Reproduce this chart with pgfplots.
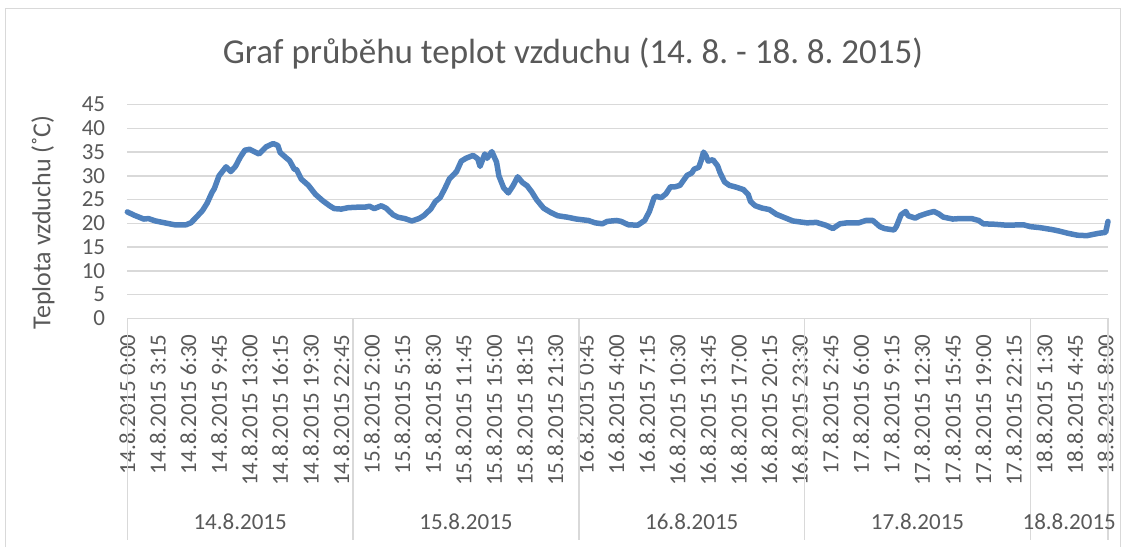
\documentclass[border=0pt]{standalone}
\usepackage{fontspec}
\setmainfont{Carlito}
\usepackage{pgfplots}
\pgfplotsset{compat=1.18}
\definecolor{txt}{HTML}{595959}
\definecolor{grd}{HTML}{D9D9D9}
\definecolor{ser}{HTML}{4F81BD}
\tikzset{
  day/.style={text=txt, font=\fontsize{23}{27}\selectfont},
  sep/.style={grd, line width=1.5pt},
}
\frenchspacing

\begin{document}
\begin{tikzpicture}
% axis box: south west corner at the origin (image px 127.3, 318.3)
\begin{axis}[
  scale only axis, width=980.7pt, height=213.7pt,
  xmin=0, xmax=417, ymin=0, ymax=45,
  clip=false,
  axis x line*=bottom, axis y line*=left,
  x axis line style={grd, line width=1.5pt, -},
  y axis line style={draw=none},
  tick style={draw=none},
  ymajorgrids, grid style={grd, line width=1.5pt},
  ytick={0,5,...,45},
  xtick={0,13,...,416},
  xticklabels={14.8.2015 0:00, 14.8.2015 3:15, 14.8.2015 6:30, 14.8.2015 9:45,
    14.8.2015 13:00, 14.8.2015 16:15, 14.8.2015 19:30, 14.8.2015 22:45,
    15.8.2015 2:00, 15.8.2015 5:15, 15.8.2015 8:30, 15.8.2015 11:45,
    15.8.2015 15:00, 15.8.2015 18:15, 15.8.2015 21:30, 16.8.2015 0:45,
    16.8.2015 4:00, 16.8.2015 7:15, 16.8.2015 10:30, 16.8.2015 13:45,
    16.8.2015 17:00, 16.8.2015 20:15, 16.8.2015 23:30, 17.8.2015 2:45,
    17.8.2015 6:00, 17.8.2015 9:15, 17.8.2015 12:30, 17.8.2015 15:45,
    17.8.2015 19:00, 17.8.2015 22:15, 18.8.2015 1:30, 18.8.2015 4:45,
    18.8.2015 8:00},
  ticklabel style={text=txt, font=\fontsize{23}{27}\selectfont, inner sep=0pt},
  /pgf/number format/assume math mode=true,
  xticklabel style={rotate=90, anchor=east},
  xticklabel shift=16pt,
  yticklabel style={anchor=east},
  yticklabel shift=22pt,
  ylabel={Teplota vzduchu (˚C)},
  ylabel style={at={(axis description cs:-0.086,0.45)}, anchor=center,
    text=txt, font=\fontsize{26}{30}\selectfont},
]
\addplot[ser, line width=5.5pt, line join=round, line cap=round] coordinates {
(0,22.4) (3,21.7) (7,20.9) (9,21.0) (12,20.5) (17,20.0) (20,19.7) (25,19.7)
(27,20.1) (29,21.1) (32,22.7) (34,24.3) (36,26.5) (37,27.3) (39,30.0) (42,31.9)
(44,30.9) (46,32.0) (48,33.9) (50,35.4) (52,35.6) (56,34.6) (59,36.1) (62,36.8)
(64,36.4) (65,34.9) (68,33.6) (69,33.2) (71,31.4) (72,31.3) (74,29.3) (77,28.0)
(80,26.1) (83,24.8) (86,23.7) (88,23.1) (91,23.0) (94,23.3) (98,23.4) (101,23.4)
(103,23.6) (105,23.1) (108,23.7) (110,23.2) (113,21.8) (115,21.3) (118,21.0)
(121,20.5) (124,21.0) (126,21.6) (129,23.0) (131,24.6) (133,25.4) (135,27.3)
(137,29.4) (140,30.9) (142,33.1) (144,33.7) (147,34.3) (149,33.6) (150,32.0)
(152,34.6) (153,33.7) (155,35.1) (157,32.9) (158,30.0) (160,27.5) (162,26.4)
(164,27.9) (166,29.8) (168,28.6) (170,27.9) (172,26.6) (174,25.0) (177,23.2)
(180,22.3) (183,21.6) (187,21.3) (191,20.9) (196,20.6) (199,20.1) (202,19.9)
(204,20.4) (208,20.6) (210,20.4) (213,19.7) (217,19.6) (220,20.6) (222,22.5)
(224,25.4) (225,25.7) (227,25.4) (229,26.2) (231,27.7) (233,27.7) (235,28.0)
(237,29.4) (238,30.1) (240,30.6) (241,31.4) (243,31.8) (244,33.2) (245,35.0)
(246,34.3) (247,33.1) (249,33.4) (251,32.1) (252,30.7) (254,28.7) (256,28.0)
(259,27.6) (262,27.1) (264,26.1) (265,24.6) (267,23.7) (270,23.2) (273,22.9)
(276,21.9) (280,21.1) (283,20.5) (286,20.3) (289,20.1) (293,20.2) (297,19.6)
(300,18.9) (303,19.9) (306,20.1) (311,20.1) (314,20.6) (317,20.6) (320,19.3)
(322,18.9) (326,18.6) (327,19.3) (329,21.8) (331,22.5) (332,21.6) (335,21.1)
(337,21.6) (340,22.1) (343,22.5) (345,22.0) (347,21.3) (351,20.9) (354,21.0)
(359,21.0) (362,20.6) (364,19.9) (369,19.8) (374,19.6) (381,19.7) (384,19.3)
(388,19.1) (393,18.7) (396,18.4) (400,17.9) (404,17.5) (408,17.4) (413,17.9)
(416,18.1) (417,20.4)
};
% day separators of the second label row
\draw[sep] (axis cs:0,0) -- ++(0pt,-222pt);
\draw[sep] (axis cs:96,0) -- ++(0pt,-222pt);
\draw[sep] (axis cs:192,0) -- ++(0pt,-222pt);
\draw[sep] (axis cs:288,0) -- ++(0pt,-222pt);
\draw[sep] (axis cs:384,0) -- ++(0pt,-222pt);
\draw[sep] (axis cs:417,0) -- ++(0pt,-222pt);
\node[day] at ([yshift=-203.7pt]axis cs:48,0) {14.8.2015};
\node[day] at ([yshift=-203.7pt]axis cs:144,0) {15.8.2015};
\node[day] at ([yshift=-203.7pt]axis cs:240,0) {16.8.2015};
\node[day] at ([yshift=-203.7pt]axis cs:336,0) {17.8.2015};
\node[day] at ([yshift=-203.7pt]axis cs:400.5,0) {18.8.2015};
\end{axis}
% chart frame and title, in px measured from the axis box corner
\draw[grd, line width=1.2pt] (-121.8pt,-228.7pt) -- (-121.8pt,309.8pt)
  -- (993.2pt,309.8pt) -- (993.2pt,-228.7pt);
\node[text=txt, font=\fontsize{35}{42}\selectfont] at (445.7pt,264.3pt)
  {Graf průběhu teplot vzduchu (14. 8. - 18. 8. 2015)};
\pgfresetboundingbox
\path[use as bounding box] (-127.3pt,-228.7pt) rectangle (998.7pt,318.3pt);
\end{tikzpicture}
\end{document}
